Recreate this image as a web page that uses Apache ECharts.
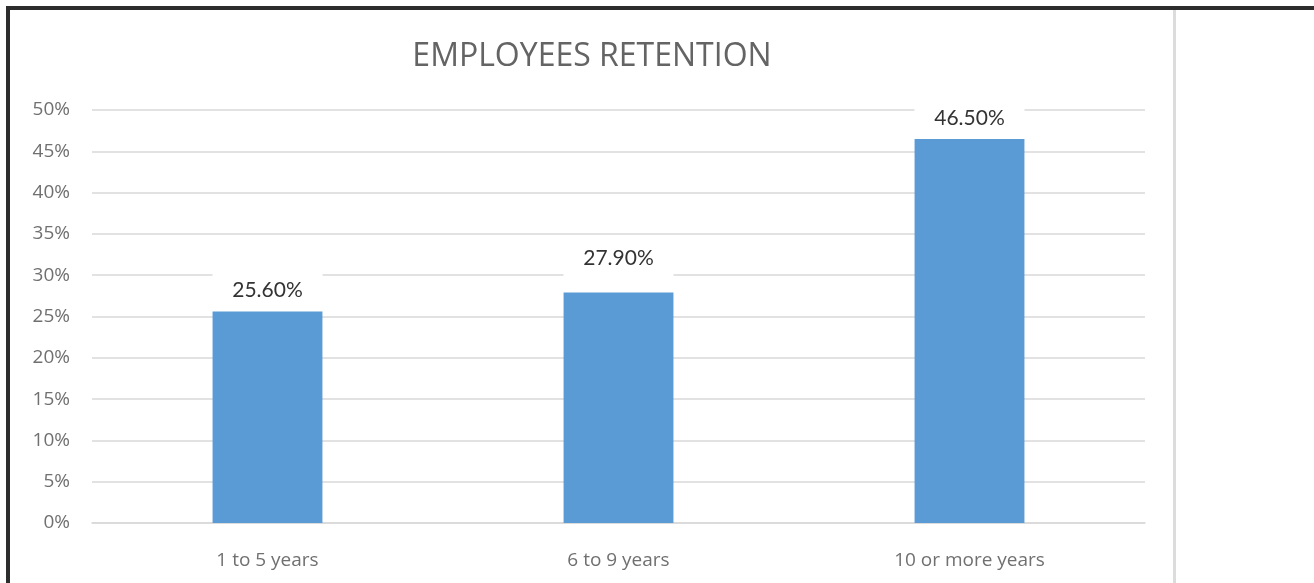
<!DOCTYPE html>
<html>
<head>
<meta charset="utf-8">
<title>Employees Retention</title>
<script src="https://cdn.jsdelivr.net/npm/echarts@6/dist/echarts.min.js"></script>
<style>
  html, body { margin: 0; padding: 0; background: #ffffff; }
  #chart { width: 1314px; height: 583px; }
</style>
</head>
<body>
<div id="chart"></div>
<script>
// Years of service groups and the share of employees retained in each (%)
const categories = ['1 to 5 years', '6 to 9 years', '10 or more years'];
const retention = [25.6, 27.9, 46.5];
// Percentage axis: 0% to 50% in steps of 5
const axisMin = 0;
const axisMax = 50;
const axisStep = 5;

const chart = echarts.init(document.getElementById('chart'), null, { renderer: 'canvas' });

const labelFont = 'Lato, "Open Sans", sans-serif';
const axisFont = '"Open Sans", "Noto Sans", sans-serif';

const option = {
  backgroundColor: '#ffffff',
  animation: false,
  title: {
    text: 'EMPLOYEES RETENTION',
    left: 587,
    textAlign: 'center',
    top: 36,
    textStyle: {
      fontFamily: axisFont,
      fontSize: 32,
      fontWeight: 'normal',
      color: '#646464'
    }
  },
  grid: {
    left: 92,
    right: 169,
    top: 110,
    bottom: 60,
    containLabel: false
  },
  xAxis: {
    type: 'category',
    data: categories,
    axisLine: { show: true, lineStyle: { color: '#d9d9d9', width: 1.5 } },
    axisTick: { show: false },
    axisLabel: {
      margin: 28,
      fontFamily: axisFont,
      fontSize: 19,
      color: '#707070'
    }
  },
  yAxis: {
    type: 'value',
    min: axisMin,
    max: axisMax,
    interval: axisStep,
    axisLine: { show: false },
    axisTick: { show: false },
    splitLine: { lineStyle: { color: '#d9d9d9', width: 1.5 } },
    axisLabel: {
      formatter: '{value}%',
      margin: 22,
      fontFamily: axisFont,
      fontSize: 19,
      color: '#707070'
    }
  },
  series: [{
    type: 'bar',
    barWidth: '31.3%',
    itemStyle: { color: '#5b9bd5' },
    z: 2,
    data: retention.map((v, i) => {
      const item = { value: v };
      // the middle label sits a little higher above its bar
      if (i === 1) item.label = { offset: [0, -13] };
      return item;
    }),
    label: {
      show: true,
      position: 'top',
      distance: 3,
      formatter: p => p.value.toFixed(2) + '%',
      fontFamily: labelFont,
      fontSize: 21,
      lineHeight: 22,
      color: '#333333',
      backgroundColor: '#ffffff',
      width: 110,
      padding: [7, 0],
      align: 'center'
    }
  }],
  graphic: [
    {
      type: 'line',
      silent: true,
      shape: { x1: 6, y1: 8, x2: 1314, y2: 8 },
      style: { stroke: '#2d2d2d', lineWidth: 4 }
    },
    {
      type: 'line',
      silent: true,
      shape: { x1: 8, y1: 6, x2: 8, y2: 583 },
      style: { stroke: '#2d2d2d', lineWidth: 4 }
    },
    {
      type: 'line',
      silent: true,
      shape: { x1: 1174.5, y1: 10, x2: 1174.5, y2: 583 },
      style: { stroke: '#dcdcdc', lineWidth: 3 }
    }
  ]
};

chart.setOption(option);
</script>
</body>
</html>
